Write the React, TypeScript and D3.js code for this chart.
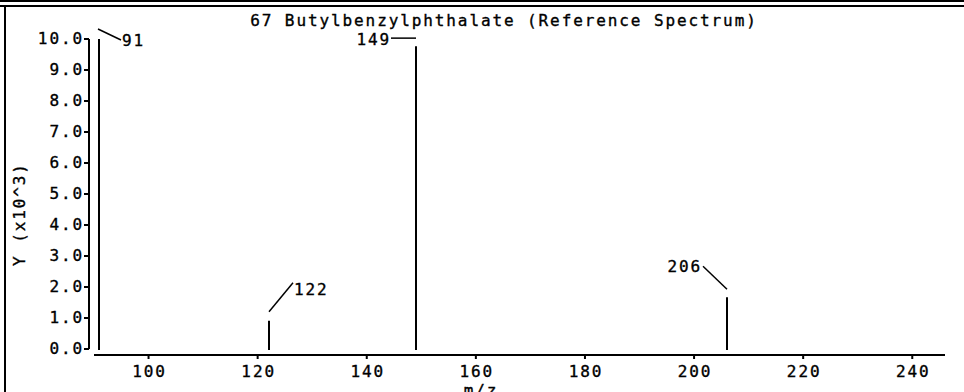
import React, { useEffect, useRef } from "react";
import * as d3 from "d3";

const W = 964;
const H = 392;

const title = "67 Butylbenzylphthalate (Reference Spectrum)";
const xLabel = "m/z";
const yLabel = "Y (x10^3)";

const peakMz = [91, 122, 149, 206];
const peakIntensity = [10.0, 0.91, 9.77, 1.67]; // x10^3
const peakLabels = ["91", "122", "149", "206"];

const xTicks = [100, 120, 140, 160, 180, 200, 220, 240];
const yTicks = [0, 1, 2, 3, 4, 5, 6, 7, 8, 9, 10];
const yTickLabels = ["0.0", "1.0", "2.0", "3.0", "4.0", "5.0", "6.0", "7.0", "8.0", "9.0", "10.0"];

// leader-line layout (pixel offsets relative to the peak top)
const leaderLayout = [
  { x1: -1, y1: -10, x2: 22, y2: 1, lx: 23, ly: 7, anchor: "start" },
  { x1: 0, y1: -9, x2: 24, y2: -38, lx: 25, ly: -26, anchor: "start" },
  { x1: 0, y1: -8, x2: -25, y2: -8, lx: -25, ly: -1, anchor: "end" },
  { x1: 0, y1: -8, x2: -24, y2: -31, lx: -25, ly: -25, anchor: "end" },
];

const FONT = "'DejaVu Sans Mono', 'Liberation Mono', monospace";

export default function App() {
  const ref = useRef<SVGSVGElement>(null);

  useEffect(() => {
    const svg = d3.select(ref.current);
    svg.selectAll("*").remove();

    const x = d3.scaleLinear().domain([90, 246]).range([94, 945]);
    const y = d3.scaleLinear().domain([0, 10]).range([349, 39]);

    const txt = (g: any) =>
      g.attr("font-family", FONT).attr("font-size", 16).attr("letter-spacing", 1.9)
        .attr("fill", "#000").attr("stroke", "#000").attr("stroke-width", 0.35);

    // frame
    svg.append("rect").attr("x", 0).attr("y", 0).attr("width", W).attr("height", 2).attr("fill", "#000");
    svg.append("rect").attr("x", 0).attr("y", 5).attr("width", W).attr("height", 2).attr("fill", "#000");
    svg.append("rect").attr("x", 4).attr("y", 5).attr("width", 2).attr("height", H).attr("fill", "#000");

    // title
    svg.append("text").call(txt).attr("x", 504).attr("y", 26).attr("text-anchor", "middle").text(title);

    // y axis
    const yAxisX = 89;
    svg.append("line").attr("x1", yAxisX).attr("x2", yAxisX).attr("y1", y(10)).attr("y2", y(0))
      .attr("stroke", "#000").attr("stroke-width", 2);
    yTicks.forEach((t, i) => {
      svg.append("line").attr("x1", yAxisX - 5).attr("x2", yAxisX).attr("y1", y(t)).attr("y2", y(t))
        .attr("stroke", "#000").attr("stroke-width", 2);
      svg.append("text").call(txt).attr("x", 84).attr("y", y(t) + 5).attr("text-anchor", "end").text(yTickLabels[i]);
    });
    svg.append("text").call(txt)
      .attr("transform", `translate(25,214) rotate(-90)`)
      .attr("text-anchor", "middle").text(yLabel);

    // x axis
    const xAxisY = 355;
    svg.append("line").attr("x1", x(90)).attr("x2", x(246)).attr("y1", xAxisY).attr("y2", xAxisY)
      .attr("stroke", "#000").attr("stroke-width", 2);
    xTicks.forEach((t) => {
      svg.append("line").attr("x1", x(t)).attr("x2", x(t)).attr("y1", xAxisY).attr("y2", xAxisY + 4)
        .attr("stroke", "#000").attr("stroke-width", 2);
      svg.append("text").call(txt).attr("x", x(t) + 1).attr("y", 377).attr("text-anchor", "middle").text(String(t));
    });
    svg.append("text").call(txt).attr("x", 481).attr("y", 396).attr("text-anchor", "middle").text(xLabel);

    // peaks
    peakMz.forEach((m, i) => {
      const px = Math.round(x(m));
      const py = y(peakIntensity[i]);
      svg.append("line").attr("x1", px).attr("x2", px).attr("y1", y(0) + 1).attr("y2", py)
        .attr("stroke", "#000").attr("stroke-width", 2);
      const L = leaderLayout[i];
      svg.append("line")
        .attr("x1", px + L.x1).attr("y1", py + L.y1)
        .attr("x2", px + L.x2).attr("y2", py + L.y2)
        .attr("stroke", "#000").attr("stroke-width", 1.5);
      svg.append("text").call(txt)
        .attr("x", px + L.lx).attr("y", py + L.ly)
        .attr("text-anchor", L.anchor).text(peakLabels[i]);
    });
  }, []);

  return (
    <div style={{ position: "fixed", left: 0, top: 0, width: W, height: H, background: "#fff" }}>
      <svg ref={ref} width={W} height={H} style={{ display: "block" }} />
    </div>
  );
}
